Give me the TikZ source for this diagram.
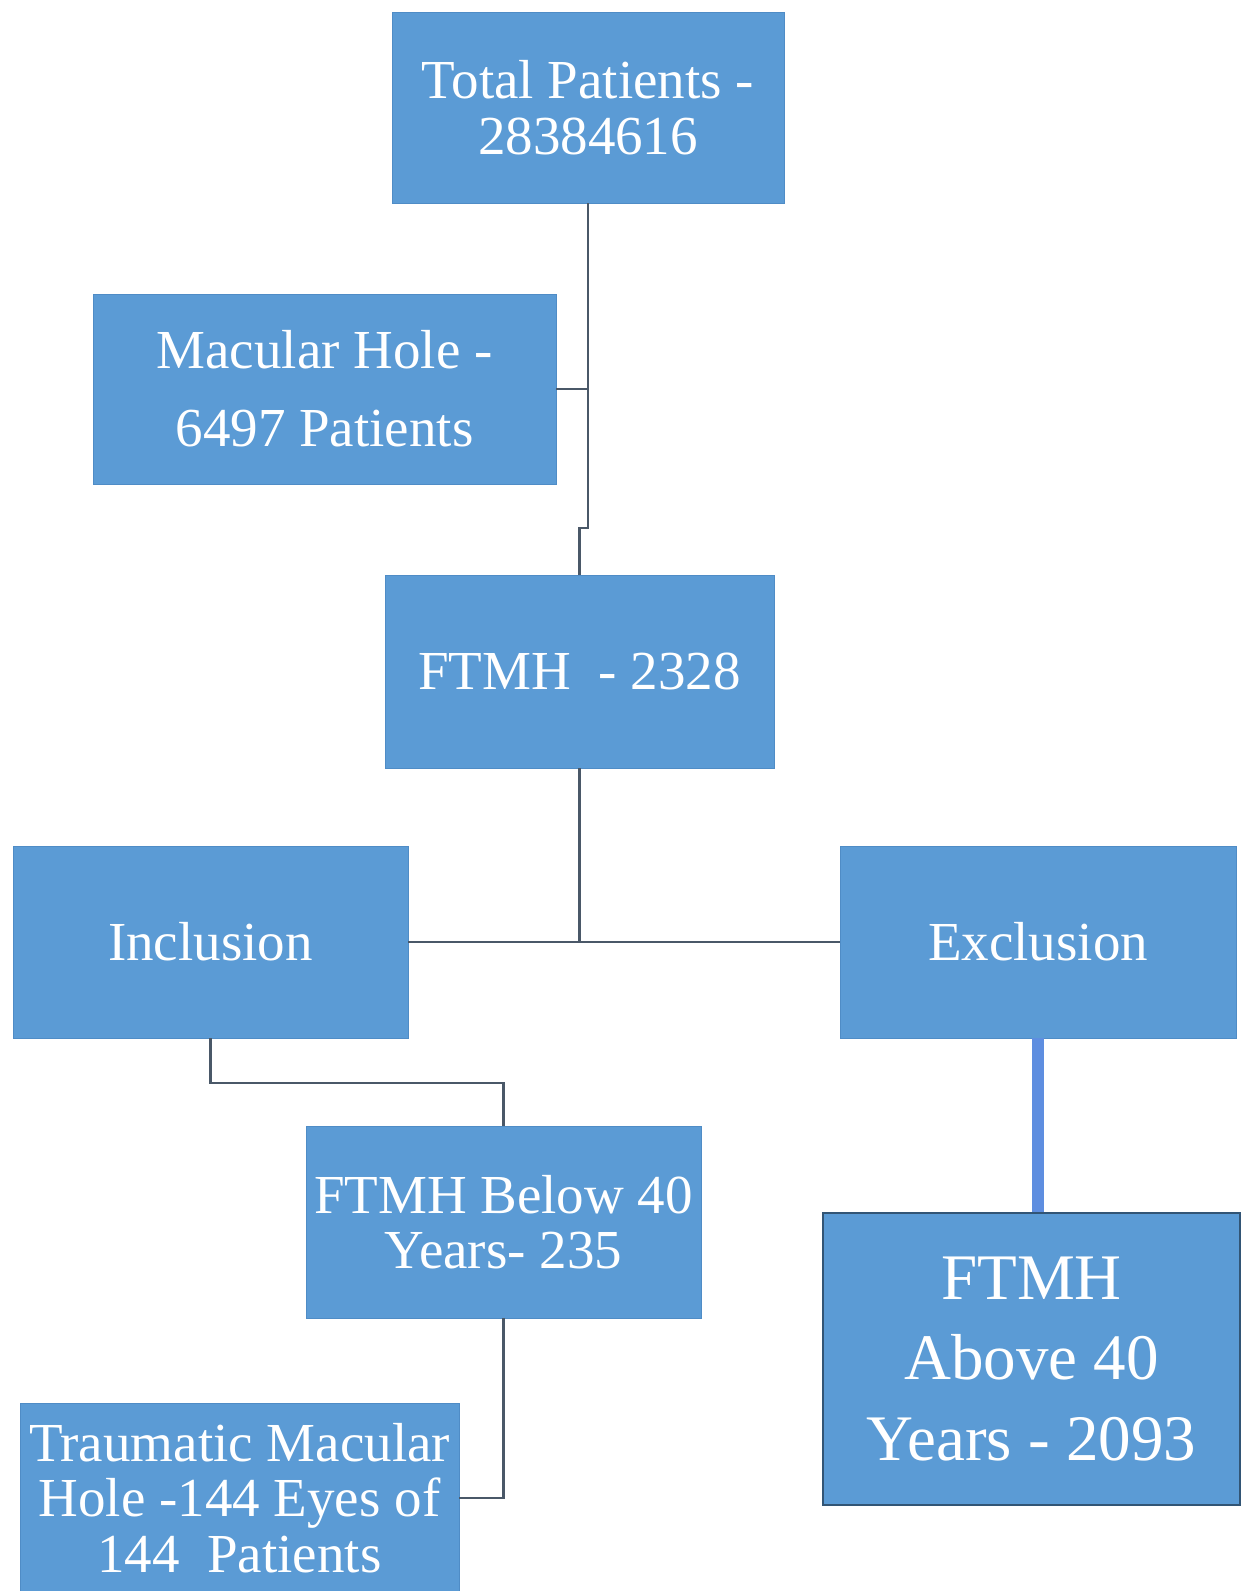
\documentclass[tikz,border=0pt]{standalone}
\usepackage{fontspec}
\setmainfont{Liberation Serif}
\usepackage{tikz}
\definecolor{boxblue}{HTML}{5B9BD5}
\definecolor{boxedge}{HTML}{4F8CC6}
\definecolor{linegray}{HTML}{4A5868}
\definecolor{linkblue}{HTML}{5E8EE0}

\begin{document}
\begin{tikzpicture}[x=0.02cm,y=-0.02cm,
    box/.style={rectangle,fill=boxblue,draw=boxedge,inner sep=0pt,align=center,text=white,
        minimum width=7.9cm,minimum height=3.84cm,font=\fontsize{31.3pt}{31.6pt}\selectfont},
    link/.style={draw=linegray,line width=1.3pt},
    fatlink/.style={draw=linkblue,line width=6.8pt}]
        \useasboundingbox (0,0) rectangle (1241,1591);
        \node[box,minimum width=7.84cm,minimum height=3.82cm] (total) at (588,107.5) {Total Patients -\\28384616};
        \node[box,minimum width=9.26cm,minimum height=3.8cm,font=\fontsize{31.3pt}{44.4pt}\selectfont] (macular) at (324.5,389) {Macular Hole -\\6497 Patients};
        \node[box,minimum width=7.78cm,minimum height=3.86cm] (ftmh) at (579.5,671.5) {FTMH\ \ - 2328};
        \node[box] (incl) at (210.5,942) {Inclusion};
        \node[box,minimum width=7.92cm] (excl) at (1038,942) {Exclusion};
        \node[box] (below) at (503.5,1222) {FTMH Below 40\\Years- 235};
        \node[box,minimum width=8.34cm,minimum height=5.84cm,draw=black!45!boxblue,line width=1pt,
            font=\fontsize{37pt}{46pt}\selectfont] (above) at (1031.5,1359) {FTMH\\Above 40\\Years - 2093};
        \node[box,minimum width=8.78cm,minimum height=3.8cm] (trauma) at (239.5,1498) {Traumatic Macular\\Hole -144 Eyes of\\144 \ Patients};

        \coordinate (jog) at (0,528);
        \coordinate (bend) at (0,1083);
        \draw[link] (total.south) |- (ftmh.north |- jog) -- (ftmh.north);
        \draw[link] (macular.east) -- (macular.east -| total.south);
        \draw[link] (ftmh.south) -- (ftmh.south |- incl.east);
        \draw[link] (incl.east) -- (excl.west);
        \draw[link] (incl.south) |- (below.north |- bend) -- (below.north);
        \draw[link] (below.south) |- (trauma.east);
        \draw[fatlink] (excl.south) -- (excl.south |- above.north);
\end{tikzpicture}
\end{document}
